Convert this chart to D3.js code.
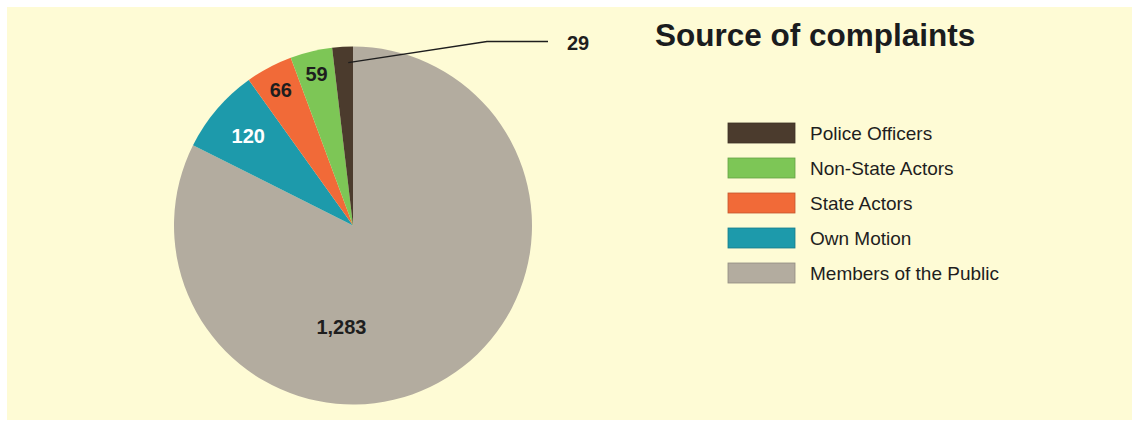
<!DOCTYPE html>
<html>
<head>
<meta charset="utf-8">
<script src="https://cdn.jsdelivr.net/npm/d3@7"></script>
<style>
  html, body { margin: 0; padding: 0; background: #ffffff; }
  svg { display: block; font-family: "Liberation Sans", Arial, Helvetica, sans-serif; }
</style>
</head>
<body>
<svg id="chart" width="1132" height="422"></svg>
<script>
// Data
const categories = ["Members of the Public", "Own Motion", "State Actors", "Non-State Actors", "Police Officers"];
const values     = [1283, 120, 66, 59, 29];
const labels     = ["1,283", "120", "66", "59", "29"];
const colors     = ["#b3ac9f", "#1d9aab", "#f16a38", "#7dc656", "#4b3b2d"];
const legendOrder = ["Police Officers", "Non-State Actors", "State Actors", "Own Motion", "Members of the Public"];

const svg = d3.select("#chart");
const width = +svg.attr("width");
const height = +svg.attr("height");

// cream panel
svg.append("rect")
  .attr("x", 7).attr("y", 7)
  .attr("width", width - 7).attr("height", height - 9)
  .attr("fill", "#fefbd5");

const cx = 353, cy = 225.5, R = 179;
const g = svg.append("g").attr("transform", `translate(${cx},${cy})`);

const color = d3.scaleOrdinal().domain(categories).range(colors);

const pie = d3.pie().sort(null).value(d => d.value);
const arcs = pie(categories.map((c, i) => ({ cat: c, value: values[i], label: labels[i] })));
const arc = d3.arc().innerRadius(0).outerRadius(R);

g.selectAll("path.slice")
  .data(arcs)
  .join("path")
    .attr("class", "slice")
    .attr("d", arc)
    .attr("fill", d => color(d.data.cat));

// label placement: radius fraction and angle (null -> mid angle)
const labelRadius = [0.57, 0.77, 0.86, 0.87, null];
const labelAngle  = [186.5, null, null, null, null];
const labelFill   = ["#1e1e1e", "#ffffff", "#1e1e1e", "#1e1e1e", "#1e1e1e"];

const polar = (r, a) => [r * Math.sin(a), -r * Math.cos(a)];

arcs.forEach((d, i) => {
  if (labelRadius[i] == null) return;
  const a = labelAngle[i] != null ? labelAngle[i] * Math.PI / 180 : (d.startAngle + d.endAngle) / 2;
  const [x, y] = polar(labelRadius[i] * R, a);
  g.append("text")
    .attr("x", x).attr("y", y)
    .attr("text-anchor", "middle")
    .attr("dominant-baseline", "central")
    .attr("font-size", 20)
    .attr("font-weight", "bold")
    .attr("fill", labelFill[i])
    .text(d.data.label);
});

// leader line for the smallest slice
const small = arcs[arcs.length - 1];
const aLead = small.startAngle + 0.75 * (small.endAngle - small.startAngle);
const [lx, ly] = polar(0.91 * R, aLead);
const kneeX = 134, kneeY = -184, endX = 195;
g.append("path")
  .attr("d", `M${lx},${ly}L${kneeX},${kneeY}L${endX},${kneeY}`)
  .attr("fill", "none")
  .attr("stroke", "#1e1e1e")
  .attr("stroke-width", 1.3);
g.append("text")
  .attr("x", endX + 19).attr("y", kneeY + 1.5)
  .attr("dominant-baseline", "central")
  .attr("font-size", 20)
  .attr("font-weight", "bold")
  .attr("fill", "#1e1e1e")
  .text(small.data.label);

// title
svg.append("text")
  .attr("x", 655).attr("y", 46)
  .attr("font-size", 31.5)
  .attr("font-weight", "bold")
  .attr("fill", "#1a1c1e")
  .text("Source of complaints");

// legend
const legend = svg.append("g").attr("transform", "translate(728,123)");
const row = legend.selectAll("g")
  .data(legendOrder)
  .join("g")
    .attr("transform", (d, i) => `translate(0,${i * 35})`);
row.append("rect")
  .attr("width", 67).attr("height", 20)
  .attr("fill", d => color(d))
  .attr("stroke", d => d3.color(color(d)).darker(0.6))
  .attr("stroke-width", 0.8);
row.append("text")
  .attr("x", 82).attr("y", 10)
  .attr("dominant-baseline", "central")
  .attr("font-size", 19)
  .attr("fill", "#1e1e1e")
  .text(d => d);
</script>
</body>
</html>
